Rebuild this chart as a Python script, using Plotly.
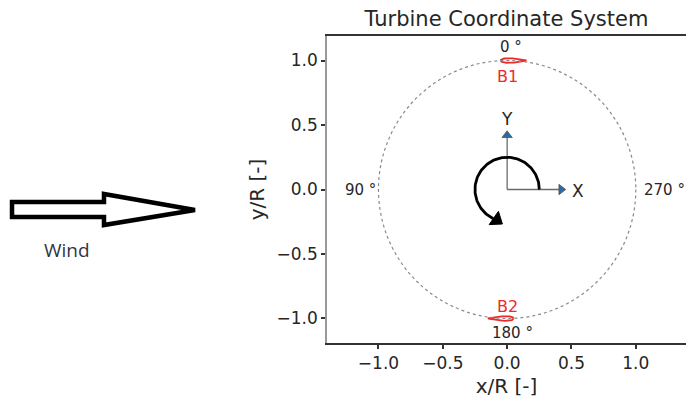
import numpy as np
import plotly.graph_objects as go

# ---------------- data ----------------
blade_names = ["B1", "B2"]
blade_azimuth_deg = [0, 180]          # azimuth of each blade (0 deg at top, CCW)
rotor_radius = 1.0
chord = 0.2
thickness_ratio = 0.18

azimuth_labels = ["0 °", "90 °", "180 °", "270 °"]
azimuth_label_deg = [0, 90, 180, 270]

x_ticks = [-1.0, -0.5, 0.0, 0.5, 1.0]
y_ticks = [-1.0, -0.5, 0.0, 0.5, 1.0]
x_range = [-1.40, 1.39]
y_range = [-1.19, 1.19]

axis_arrow_len = 0.42
rotation_radius = 0.25
rotation_sweep_deg = 245

title_text = "Turbine Coordinate System"
x_title = "x/R [-]"
y_title = "y/R [-]"
wind_text = "Wind"

# ---------------- layout constants ----------------
W, H = 686, 401
ML, MR, MT, MB = 327, 0, 36, 58
PW, PH = W - ML - MR, H - MT - MB

def px2paper(px, py):
    return (px - ML) / PW, (H - MB - py) / PH

FONT = "DejaVu Sans"
TXT = "#262626"
RED = "#ee2a2a"

fig = go.Figure()

# rotor circle
fig.add_shape(type="circle", xref="x", yref="y",
              x0=-rotor_radius, x1=rotor_radius, y0=-rotor_radius, y1=rotor_radius,
              line=dict(color="#8a8a8a", width=1.2, dash="dot"))

# blades (symmetric airfoil outline)
s = np.linspace(0, 1, 60)
xc = (1 - np.cos(np.pi * s)) / 2
yt = 5 * thickness_ratio * (0.2969 * np.sqrt(xc) - 0.1260 * xc - 0.3516 * xc**2
                            + 0.2843 * xc**3 - 0.1036 * xc**4)
xs = np.concatenate([xc, xc[::-1]])
ys = np.concatenate([yt, -yt[::-1]])
for name, psi in zip(blade_names, blade_azimuth_deg):
    p = np.radians(psi)
    cx, cy = -np.sin(p) * rotor_radius, np.cos(p) * rotor_radius
    mx, my = -np.cos(p), -np.sin(p)          # motion direction
    nx, ny = -my, mx
    lx, ly = cx + 0.25 * chord * mx, cy + 0.25 * chord * my
    px_ = lx - xs * chord * mx + ys * chord * nx
    py_ = ly - xs * chord * my + ys * chord * ny
    fig.add_trace(go.Scatter(x=px_, y=py_, mode="lines",
                             line=dict(color=RED, width=1.8), hoverinfo="skip"))

# coordinate axes arrows
fig.add_trace(go.Scatter(x=[0, axis_arrow_len], y=[0, 0], mode="lines",
                         line=dict(color="#6b6b6b", width=1.3)))
fig.add_trace(go.Scatter(x=[0, 0], y=[0, axis_arrow_len], mode="lines",
                         line=dict(color="#6b6b6b", width=1.3)))
fig.add_trace(go.Scatter(x=[axis_arrow_len, 0], y=[0, axis_arrow_len], mode="markers",
                         marker=dict(symbol=["triangle-right", "triangle-up"], size=9,
                                     color="#2b6aa3", line=dict(color="#555", width=0.8))))

# rotation arc
th = np.radians(np.linspace(0, rotation_sweep_deg, 120))
fig.add_trace(go.Scatter(x=rotation_radius * np.cos(th), y=rotation_radius * np.sin(th),
                         mode="lines", line=dict(color="black", width=2.8)))
te = np.radians(rotation_sweep_deg + 6)
fig.add_trace(go.Scatter(x=[rotation_radius * np.cos(te)], y=[rotation_radius * np.sin(te)],
                         mode="markers",
                         marker=dict(symbol="triangle-up", size=14, angle=125,
                                     color="black", line=dict(color="black", width=1))))

annots = []
# azimuth labels
for lab, d in zip(azimuth_labels, azimuth_label_deg):
    p = np.radians(d)
    x, y = -np.sin(p), np.cos(p)
    if d == 0:
        annots.append(dict(x=0, y=1.105, text=lab, xanchor="center", yanchor="middle", xshift=4))
    elif d == 180:
        annots.append(dict(x=0, y=-1.11, text=lab, xanchor="center", yanchor="middle", xshift=5))
    elif d == 90:
        annots.append(dict(x=x - 0.005, y=y, text=lab, xanchor="right", yanchor="middle"))
    else:
        annots.append(dict(x=x + 0.045, y=y, text=lab, xanchor="left", yanchor="middle"))
for a in annots:
    a.update(xref="x", yref="y", showarrow=False, font=dict(family=FONT, size=15, color=TXT))

# blade labels
for name, psi in zip(blade_names, blade_azimuth_deg):
    yb = 0.875 if psi == 0 else -0.905
    annots.append(dict(x=0, y=yb, xref="x", yref="y", text=name, showarrow=False,
                       font=dict(family=FONT, size=16, color=RED)))

annots.append(dict(x=0.55, y=-0.01, xref="x", yref="y", text="X", showarrow=False,
                   font=dict(family=FONT, size=17, color=TXT)))
annots.append(dict(x=0, y=0.545, xref="x", yref="y", text="Y", showarrow=False,
                   font=dict(family=FONT, size=17, color=TXT)))

# wind arrow (outlined), drawn in paper coordinates outside the axes
wind_px = [(12, 202), (104, 202), (104, 194), (195, 210), (104, 225), (104, 217), (12, 217)]
pts = [px2paper(a, b) for a, b in wind_px]
path = "M " + " L ".join(f"{a:.4f},{b:.4f}" for a, b in pts) + " Z"
shapes = [dict(type="path", xref="paper", yref="paper", path=path,
               line=dict(color="black", width=4.5), fillcolor="white", layer="above")]
wx, wy = px2paper(67, 250)
annots.append(dict(x=wx, y=wy, xref="paper", yref="paper", text=wind_text, showarrow=False,
                   xanchor="center", yanchor="middle",
                   font=dict(family="Open Sans", size=19, color="#333344")))

fig.update_layout(
    width=W, height=H,
    margin=dict(l=ML, r=MR, t=MT, b=MB),
    paper_bgcolor="white", plot_bgcolor="white",
    showlegend=False,
    title=dict(text=title_text, x=0.5, xref="paper", y=1, yref="paper",
               yanchor="bottom", pad=dict(b=10),
               font=dict(family=FONT, size=21, color=TXT)),
    annotations=annots,
    shapes=list(fig.layout.shapes) + shapes,
    font=dict(family=FONT, color=TXT),
)
fig.update_xaxes(range=x_range, tickvals=x_ticks, ticktext=[f"{v:.1f}".replace("-", "−") for v in x_ticks],
                 showgrid=False, zeroline=False, showline=True, linecolor="#333", linewidth=1.5,
                 mirror=True, ticks="outside", ticklen=4, tickwidth=1.5, tickcolor="#333",
                 tickfont=dict(family=FONT, size=17, color=TXT),
                 title=dict(text=x_title, standoff=7, font=dict(family=FONT, size=20, color=TXT)))
fig.update_yaxes(range=y_range, tickvals=y_ticks, ticktext=[f"{v:.1f}".replace("-", "−") for v in y_ticks],
                 showgrid=False, zeroline=False, showline=True, linecolor="#999", linewidth=1.5,
                 ticks="outside", ticklen=4, tickwidth=1.5, tickcolor="#333",
                 tickfont=dict(family=FONT, size=17, color=TXT),
                 title=dict(text=y_title, standoff=7, font=dict(family=FONT, size=20, color=TXT)))

fig.write_html("out.html")
